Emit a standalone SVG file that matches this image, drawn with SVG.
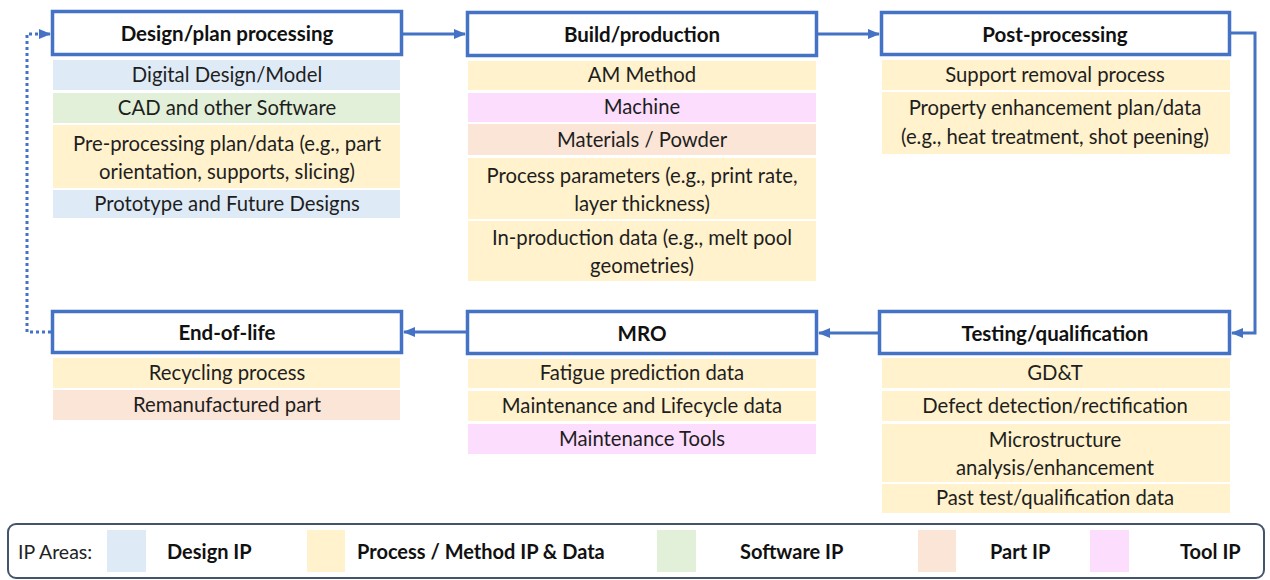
<svg xmlns="http://www.w3.org/2000/svg" width="1270" height="580" viewBox="0 0 1270 580">
  <defs>
    <marker id="arrow" markerUnits="userSpaceOnUse" markerWidth="12" markerHeight="12" viewBox="0 0 12 12" refX="11" refY="6" orient="auto">
      <path d="M0,1 L12,6 L0,11 Z" fill="#4472C4"/>
    </marker>
    <style>
      .stage { fill: #FFFFFF; stroke: #4472C4; stroke-width: 3.5; }
      .head { font-family: Lato, "Liberation Sans", sans-serif; font-weight: bold; font-size: 20.5px; fill: #111111; text-anchor: middle; }
      .item { font-family: Lato, "Liberation Sans", sans-serif; font-size: 20.3px; fill: #1E1E1E; text-anchor: middle; }
      .design { fill: #DEEBF7; }
      .process { fill: #FFF2CC; }
      .software { fill: #E2F0D9; }
      .part { fill: #FBE5D6; }
      .tool { fill: #FDDDFD; }
      .link { fill: none; stroke: #4472C4; stroke-width: 3; }
      .dotted { fill: none; stroke: #4472C4; stroke-width: 3; stroke-dasharray: 3 3; }
      .legend-box { fill: #FFFFFF; stroke: #44546A; stroke-width: 2; }
      .legend-label { font-family: Lato, "Liberation Sans", sans-serif; font-size: 19.5px; fill: #222222; }
      .legend-key { font-family: Lato, "Liberation Sans", sans-serif; font-weight: bold; font-size: 20px; fill: #111111; }
    </style>
  </defs>

  <!-- connectors between stages -->
  <g id="connectors">
    <line class="link" x1="403" y1="34" x2="465" y2="34" marker-end="url(#arrow)"/>
    <line class="link" x1="818" y1="34" x2="879" y2="34" marker-end="url(#arrow)"/>
    <path class="link" d="M1231,33 H1255 V333 H1232" marker-end="url(#arrow)"/>
    <line class="link" x1="878" y1="333" x2="819" y2="333" marker-end="url(#arrow)"/>
    <line class="link" x1="466" y1="332" x2="404" y2="332" marker-end="url(#arrow)"/>
    <path class="dotted" d="M51,332 H27 V34 H50" marker-end="url(#arrow)"/>
  </g>

  <!-- Design/plan processing -->
  <g id="design-plan">
    <rect class="stage" x="52.5" y="11.5" width="349" height="43"/>
    <text class="head" x="227" y="41">Design/plan processing</text>
    <rect class="design" x="53" y="60" width="347" height="30"/>
    <text class="item" x="227" y="82">Digital Design/Model</text>
    <rect class="software" x="53" y="93" width="347" height="30"/>
    <text class="item" x="227" y="115">CAD and other Software</text>
    <rect class="process" x="53" y="125" width="347" height="63"/>
    <text class="item" x="227" y="151">Pre-processing plan/data (e.g., part</text>
    <text class="item" x="227" y="179">orientation, supports, slicing)</text>
    <rect class="design" x="53" y="190" width="347" height="28"/>
    <text class="item" x="227" y="211">Prototype and Future Designs</text>
  </g>

  <!-- Build/production -->
  <g id="build-production">
    <rect class="stage" x="467.5" y="12.5" width="349" height="43"/>
    <text class="head" x="642" y="42">Build/production</text>
    <rect class="process" x="468" y="61" width="348" height="29"/>
    <text class="item" x="642" y="82">AM Method</text>
    <rect class="tool" x="468" y="93" width="348" height="29"/>
    <text class="item" x="642" y="114">Machine</text>
    <rect class="part" x="468" y="124" width="348" height="31"/>
    <text class="item" x="642" y="147">Materials / Powder</text>
    <rect class="process" x="468" y="158" width="348" height="61"/>
    <text class="item" x="642" y="183">Process parameters (e.g., print rate,</text>
    <text class="item" x="642" y="211">layer thickness)</text>
    <rect class="process" x="468" y="221" width="348" height="60"/>
    <text class="item" x="642" y="245">In-production data (e.g., melt pool</text>
    <text class="item" x="642" y="273">geometries)</text>
  </g>

  <!-- Post-processing -->
  <g id="post-processing">
    <rect class="stage" x="881.5" y="12.5" width="348" height="42"/>
    <text class="head" x="1055" y="42">Post-processing</text>
    <rect class="process" x="882" y="60" width="348" height="30"/>
    <text class="item" x="1055" y="82">Support removal process</text>
    <rect class="process" x="882" y="92" width="348" height="62"/>
    <text class="item" x="1055" y="115">Property enhancement plan/data</text>
    <text class="item" x="1055" y="144">(e.g., heat treatment, shot peening)</text>
  </g>

  <!-- Testing/qualification -->
  <g id="testing-qualification">
    <rect class="stage" x="879.5" y="311.5" width="350" height="42"/>
    <text class="head" x="1055" y="341">Testing/qualification</text>
    <rect class="process" x="882" y="358" width="348" height="30"/>
    <text class="item" x="1055" y="380">GD&amp;T</text>
    <rect class="process" x="882" y="391" width="348" height="30"/>
    <text class="item" x="1055" y="413">Defect detection/rectification</text>
    <rect class="process" x="882" y="424" width="348" height="58"/>
    <text class="item" x="1055" y="447">Microstructure</text>
    <text class="item" x="1055" y="475">analysis/enhancement</text>
    <rect class="process" x="882" y="484" width="348" height="29"/>
    <text class="item" x="1055" y="505">Past test/qualification data</text>
  </g>

  <!-- MRO -->
  <g id="mro">
    <rect class="stage" x="467.5" y="311.5" width="349" height="42"/>
    <text class="head" x="642" y="341">MRO</text>
    <rect class="process" x="468" y="359" width="348" height="29"/>
    <text class="item" x="642" y="380">Fatigue prediction data</text>
    <rect class="process" x="468" y="391" width="348" height="30"/>
    <text class="item" x="642" y="413">Maintenance and Lifecycle data</text>
    <rect class="tool" x="468" y="424" width="348" height="30"/>
    <text class="item" x="642" y="446">Maintenance Tools</text>
  </g>

  <!-- End-of-life -->
  <g id="end-of-life">
    <rect class="stage" x="52.5" y="311.5" width="349" height="41"/>
    <text class="head" x="227" y="340">End-of-life</text>
    <rect class="process" x="53" y="358" width="347" height="30"/>
    <text class="item" x="227" y="380">Recycling process</text>
    <rect class="part" x="53" y="390" width="347" height="30"/>
    <text class="item" x="227" y="412">Remanufactured part</text>
  </g>

  <!-- IP area key -->
  <g id="legend">
    <rect class="legend-box" x="8" y="524" width="1256" height="54" rx="8"/>
    <text class="legend-label" x="18" y="559">IP Areas:</text>
    <rect class="design" x="107" y="530" width="39" height="42"/>
    <text class="legend-key" x="167" y="559">Design IP</text>
    <rect class="process" x="307" y="530" width="38" height="42"/>
    <text class="legend-key" x="357" y="559">Process / Method IP &amp; Data</text>
    <rect class="software" x="657" y="530" width="39" height="42"/>
    <text class="legend-key" x="740" y="559">Software IP</text>
    <rect class="part" x="918" y="530" width="38" height="42"/>
    <text class="legend-key" x="990" y="559">Part IP</text>
    <rect class="tool" x="1090" y="530" width="39" height="42"/>
    <text class="legend-key" x="1180" y="559">Tool IP</text>
  </g>
</svg>
